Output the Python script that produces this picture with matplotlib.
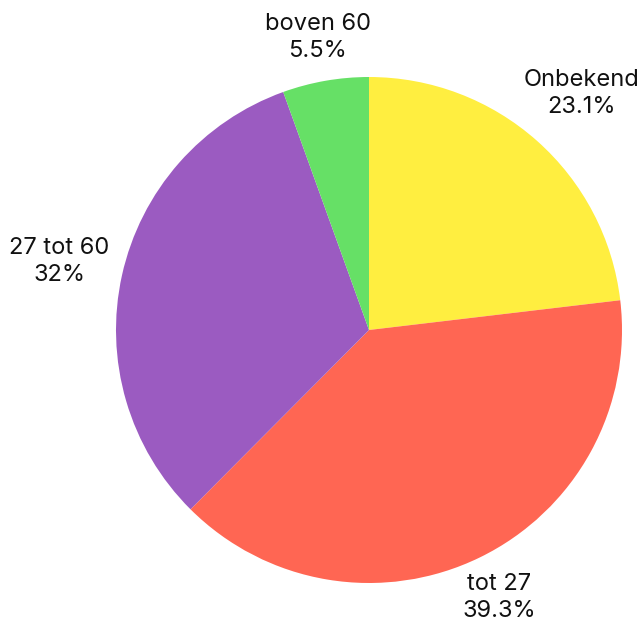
import numpy as np
import matplotlib
matplotlib.use("Agg")
import matplotlib.pyplot as plt

categories = ["Onbekend", "tot 27", "27 tot 60", "boven 60"]
values = [23.1, 39.3, 32.0, 5.5]
pct_labels = ["23.1%", "39.3%", "32%", "5.5%"]

colors = ["#FFEE40", "#FF6653", "#9B5BC1", "#66E066"]
label_dist = [1.25, 1.175, 1.255, 1.175]
label_dx = [2, 0, 0, 0]

W, H = 644, 627
fig = plt.figure(figsize=(W / 100, H / 100), dpi=100)
ax = fig.add_axes([0, 0, 1, 1])
ax.set_xlim(0, W)
ax.set_ylim(0, H)
ax.set_aspect("equal")
ax.axis("off")

cx, cy, r = 369, H - 330, 253
wedges, _ = ax.pie(values, colors=colors, startangle=90, counterclock=False,
                   center=(cx, cy), radius=r, frame=True,
                   wedgeprops=dict(linewidth=0))
ax.set_xlim(0, W)
ax.set_ylim(0, H)
ax.axis("off")

for w, cat, pl, d, dx in zip(wedges, categories, pct_labels, label_dist, label_dx):
    ang = np.deg2rad((w.theta1 + w.theta2) / 2)
    x = cx + d * r * np.cos(ang) + dx
    y = cy + d * r * np.sin(ang)
    ax.text(x, y, f"{cat}\n{pl}", ha="center", va="center",
            fontsize=17, family=["Inter", "DejaVu Sans"], color="#111111",
            linespacing=1.3)

fig.savefig("out.png", dpi=100)
